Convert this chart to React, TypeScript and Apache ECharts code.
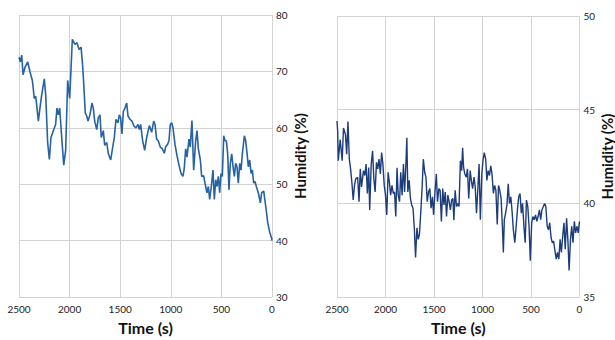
import React, { useEffect, useRef } from "react";
import * as echarts from "echarts";

const timeTicks = [0, 500, 1000, 1500, 2000, 2500];

// [time (s), humidity (%)]
const leftSeries: [number, number][] = [
  [2500,72.5],[2487,71.7],[2473,72.9],[2460,69.4],[2441,70.7],[2414,71.7],[2391,69.9],[2368,68.4],[2349,65.2],[2335,65.6],[2322,63.5],[2309,61.2],[2293,63.5],[2276,65.8],[2250,68.7],[2236,65.8],[2217,57.4],[2200,54.4],[2184,58.3],[2161,59.5],[2138,60.6],[2125,63.5],[2112,62.3],[2098,63.5],[2078,58.3],[2058,53.4],[2039,56],[2019,68.4],[1999,65.2],[1973,75.7],[1947,74.8],[1927,75.1],[1907,73.9],[1887,74.3],[1871,71.0],[1858,67],[1845,62.6],[1831,62.1],[1818,61.2],[1799,62.3],[1779,64.4],[1766,63.5],[1752,61.2],[1732,59.7],[1716,61.8],[1700,62.3],[1687,58.3],[1667,59.5],[1653,56.9],[1633,57.4],[1617,55.4],[1594,54.3],[1574,56.6],[1558,58.3],[1542,61.5],[1522,60.9],[1509,62.3],[1496,61.8],[1483,58.9],[1469,62.9],[1453,63.5],[1436,64.4],[1423,62.1],[1403,61.5],[1384,61.2],[1364,60.3],[1344,60],[1324,60.6],[1311,59.7],[1298,60.6],[1278,57.7],[1258,56],[1238,58.3],[1212,60.4],[1189,59.2],[1169,61.2],[1156,60.6],[1140,58],[1124,57.7],[1104,56.6],[1084,56.3],[1064,55.5],[1051,56.6],[1031,57.1],[1018,57.7],[1005,60.6],[991,60.9],[978,60],[959,57.1],[939,55.1],[919,53.4],[899,51.9],[880,51.4],[867,52.8],[853,56.3],[840,54.8],[820,58],[808,56.6],[791,61.3],[774,52.5],[754,57.7],[741,59.5],[728,56.3],[708,54.3],[695,51.4],[675,51.5],[662,50.2],[643,48.5],[629,49.6],[616,47.3],[596,50.2],[583,52.5],[570,47.3],[556,50.8],[543,49.6],[530,51.4],[517,48.5],[504,51.9],[491,51.4],[477,58.6],[464,57.7],[451,57.7],[438,55.4],[425,49],[412,53.7],[398,55.4],[385,53.1],[372,51.4],[359,53.7],[346,53.1],[333,50.2],[319,53.7],[306,52.5],[293,55.4],[273,58.6],[260,57.7],[246,55.4],[234,53.1],[220,54.3],[207,51.9],[194,52.5],[181,50.2],[168,50.5],[155,49.6],[135,48.5],[115,46.7],[102,48.5],[82,48.8],[62,46.1],[42,43.2],[23,41.5],[3,40.4],[0,40]
];

const rightSeries: [number, number][] = [
  [2500,44.4],[2493,43.85],[2487,42.28],[2467,43.41],[2447,42.28],[2433,44.02],[2413,43.67],[2400,42.62],[2387,44.37],[2373,42.36],[2360,41.84],[2347,41.14],[2333,40.18],[2320,40.96],[2307,41.31],[2287,41.4],[2273,40.09],[2260,41.84],[2247,40.88],[2227,41.75],[2213,41.49],[2200,42.1],[2187,40.53],[2173,41.92],[2163,39.65],[2147,42.1],[2133,42.8],[2120,41.31],[2107,40.61],[2093,42.19],[2080,41.84],[2067,42.36],[2053,41.57],[2040,42.71],[2027,42.1],[2013,40.96],[2000,40.44],[1987,39.39],[1973,41.66],[1960,41.14],[1947,40.44],[1933,40.96],[1920,40.53],[1907,40.61],[1894,39.3],[1881,41.9],[1869,40.44],[1855,40.09],[1843,41.66],[1829,40.44],[1815,42.1],[1803,40.61],[1789,42.19],[1780,43.5],[1770,40.61],[1756,41.23],[1743,40.26],[1730,39.92],[1716,39.74],[1703,38.69],[1690,37.12],[1676,38.69],[1663,38.08],[1650,38.34],[1636,39.57],[1623,40.79],[1610,42.36],[1596,41.66],[1583,41.4],[1570,40.09],[1556,40.61],[1543,40.79],[1530,39.74],[1516,40.35],[1504,39.39],[1490,40.61],[1476,41.57],[1464,40.09],[1450,40.79],[1437,40.7],[1424,39.04],[1410,40.79],[1397,39.92],[1384,40.61],[1371,39.3],[1357,40.44],[1344,40.09],[1331,39.65],[1318,40.18],[1305,40.26],[1295,39.1],[1282,40.7],[1268,39.83],[1255,40.0],[1242,39.83],[1228,42.28],[1215,41.75],[1205,42.97],[1195,41.92],[1182,41.57],[1167,41.4],[1155,41.84],[1142,40.26],[1127,41.75],[1115,41.23],[1102,40.79],[1087,41.4],[1075,40.88],[1062,39.48],[1047,40.88],[1035,42.1],[1022,39.13],[1007,41.57],[995,42.28],[982,42.71],[967,42.36],[955,41.23],[942,41.75],[928,41.49],[915,42.01],[902,41.57],[888,40.53],[875,40.96],[862,40.7],[848,38.87],[835,40.96],[822,40.7],[808,40.26],[795,38.78],[785,37.38],[775,39.13],[762,39.48],[748,39.92],[735,41.05],[722,40.0],[708,40.35],[695,39.57],[682,38.6],[667,37.9],[653,38.78],[640,39.65],[627,40.35],[613,40.53],[600,39.48],[587,40.0],[573,38.78],[560,37.9],[547,40.18],[533,39.83],[520,38.78],[507,36.94],[493,38.96],[480,39.3],[467,39.13],[453,39.39],[440,39.04],[427,39.3],[413,39.65],[400,39.13],[387,39.65],[373,39.83],[360,40.0],[347,39.83],[333,38.78],[320,38.6],[307,38.96],[293,38.17],[280,37.9],[267,37.99],[253,37.47],[240,37.03],[227,37.38],[213,37.03],[200,38.08],[187,37.38],[173,38.26],[160,38.96],[147,37.56],[133,39.21],[120,38.08],[107,36.42],[93,38.08],[80,38.78],[67,37.9],[53,39.04],[40,38.43],[27,38.78],[13,38.43],[0,39.04]
];

const leftYRange = { min: 30, max: 80, interval: 10 };
const rightYRange = { min: 35, max: 50, interval: 5 };

const FONT = "Lato, 'Liberation Sans', sans-serif";

export default function App() {
  const ref = useRef<HTMLDivElement>(null);
  useEffect(() => {
    document.body.style.margin = "0";
    if (!ref.current) return;
    const chart = echarts.init(ref.current, null, { renderer: "svg" });
    const gridLine = { show: true, lineStyle: { color: "#d3d3d3", width: 1 } };
    const xAxisBase = (gridIndex: number) => ({
      type: "value" as const,
      gridIndex,
      min: timeTicks[0],
      max: timeTicks[timeTicks.length - 1],
      interval: 500,
      inverse: true,
      axisLine: { show: false },
      axisTick: { show: false },
      splitLine: gridLine,
      axisLabel: { color: "#222", fontSize: 10, fontFamily: FONT, margin: 7, formatter: (v: number) => String(v) },
      name: "Time (s)",
      nameLocation: "middle" as const,
      nameGap: 18,
      nameTextStyle: { color: "#111", fontSize: 16, fontWeight: "bold" as const, fontFamily: FONT },
    });
    const yAxisBase = (gridIndex: number, r: { min: number; max: number; interval: number }, gap: number) => ({
      type: "value" as const,
      gridIndex,
      position: "right" as const,
      min: r.min,
      max: r.max,
      interval: r.interval,
      axisLine: { show: false },
      axisTick: { show: false },
      splitLine: gridLine,
      axisLabel: { color: "#222", fontSize: 10, fontFamily: FONT, margin: 4, formatter: (v: number) => String(v) },
      name: "Humidity (%)",
      nameLocation: "middle" as const,
      nameRotate: 90,
      nameGap: gap,
      nameTextStyle: { color: "#111", fontSize: 15, fontWeight: "bold" as const, fontFamily: FONT },
    });
    chart.setOption({
      animation: false,
      backgroundColor: "#fff",
      grid: [
        { left: 19, top: 15, width: 253, height: 288 },
        { left: 337, top: 16, width: 251, height: 286 },
      ],
      xAxis: [xAxisBase(0), xAxisBase(1)],
      yAxis: [yAxisBase(0, leftYRange, 20), yAxisBase(1, rightYRange, 19)],
      series: [
        {
          type: "line",
          xAxisIndex: 0,
          yAxisIndex: 0,
          data: leftSeries,
          showSymbol: false,
          symbol: "none",
          lineStyle: { color: "#2762a3", width: 1.6 },
        },
        {
          type: "line",
          xAxisIndex: 1,
          yAxisIndex: 1,
          data: rightSeries,
          showSymbol: false,
          symbol: "none",
          lineStyle: { color: "#1d3c7c", width: 1.4 },
        },
      ],
    });
    return () => chart.dispose();
  }, []);
  return <div ref={ref} style={{ width: 615, height: 340 }} />;
}
